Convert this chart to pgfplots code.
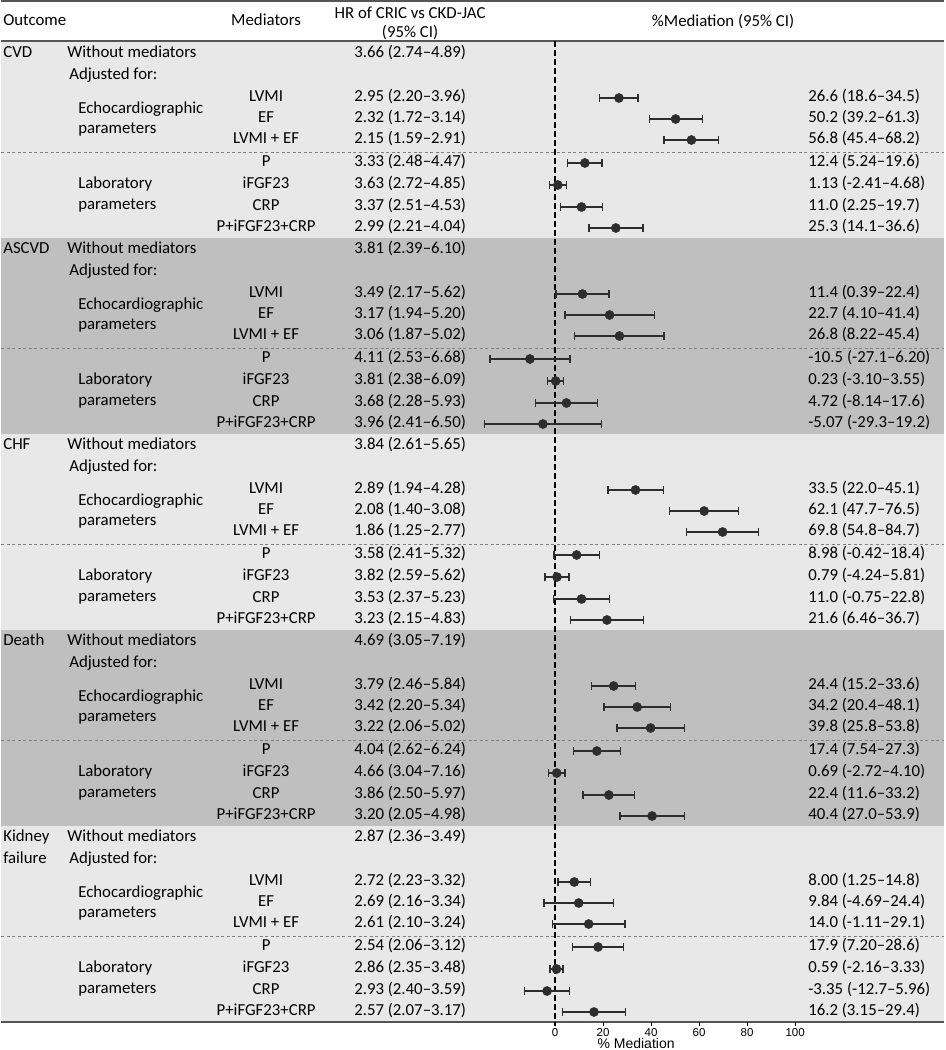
\documentclass[border=0pt]{standalone}
\usepackage{pgfplots}
\pgfplotsset{compat=1.18}
\usepackage{pgfplotstable}
\usepackage{fontspec}
\setmainfont{Carlito}
\newfontfamily\arialfont{Liberation Sans}

\definecolor{lightbg}{RGB}{232,232,232}
\definecolor{darkbg}{RGB}{191,191,191}
\definecolor{rulegray}{RGB}{85,85,85}
\definecolor{ptgray}{RGB}{45,45,45}

% %Mediation (95% CI): y = row position (px from top), est, lower, upper
\pgfplotstableread{
y est lo hi
98 26.6 18.6 34.5
119 50.2 39.2 61.3
140 56.8 45.4 68.2
163 12.4 5.24 19.6
185 1.13 -2.41 4.68
207 11.0 2.25 19.7
228 25.3 14.1 36.6
}\cvd
\pgfplotstableread{
y est lo hi
294 11.4 0.39 22.4
315 22.7 4.10 41.4
336 26.8 8.22 45.4
359 -10.5 -27.1 6.20
381 0.23 -3.10 3.55
403 4.72 -8.14 17.6
424 -5.07 -29.3 19.2
}\ascvd
\pgfplotstableread{
y est lo hi
490 33.5 22.0 45.1
511 62.1 47.7 76.5
532 69.8 54.8 84.7
555 8.98 -0.42 18.4
577 0.79 -4.24 5.81
599 11.0 -0.75 22.8
620 21.6 6.46 36.7
}\chf
\pgfplotstableread{
y est lo hi
686 24.4 15.2 33.6
707 34.2 20.4 48.1
728 39.8 25.8 53.8
751 17.4 7.54 27.3
773 0.69 -2.72 4.10
795 22.4 11.6 33.2
816 40.4 27.0 53.9
}\death
\pgfplotstableread{
y est lo hi
882 8.00 1.25 14.8
903 9.84 -4.69 24.4
924 14.0 -1.11 29.1
947 17.9 7.20 28.6
969 0.59 -2.16 3.33
991 -3.35 -12.7 5.96
1012 16.2 3.15 29.4
}\kidney

\newcommand\blocklabels[1]{%
  \node[txt,anchor=west] at (axis cs:66,#1+12) {Without mediators};
  \node[txt,anchor=west] at (axis cs:68,#1+34) {Adjusted for:};
  \node[txt,anchor=west] at (axis cs:77,#1+68) {Echocardiographic};
  \node[txt,anchor=west] at (axis cs:77,#1+88) {parameters};
  \node[txt,anchor=west] at (axis cs:77,#1+143) {Laboratory};
  \node[txt,anchor=west] at (axis cs:77,#1+164) {parameters};
  \node[txt] at (axis cs:265,#1+56) {LVMI};
  \node[txt] at (axis cs:265,#1+77) {EF};
  \node[txt] at (axis cs:265,#1+98) {LVMI + EF};
  \node[txt] at (axis cs:265,#1+121) {P};
  \node[txt] at (axis cs:265,#1+143) {iFGF23};
  \node[txt] at (axis cs:265,#1+165) {CRP};
  \node[txt] at (axis cs:265,#1+186) {P+iFGF23+CRP};
}
\newcommand\hr[2]{\node[txt,anchor=west] at (axis cs:353,#1) {#2};}
\newcommand\pct[2]{\node[txt,anchor=west] at (axis cs:807,#1) {#2};}

\begin{document}
\begin{tikzpicture}[font=\fontsize{16.8}{19}\selectfont,
  txt/.style={inner sep=0pt, text height=0.64em, text depth=0pt}]

% table frame, shading and text (pixel coordinates)
\begin{axis}[scale only axis, width=943pt, height=1050pt,
  xmin=0, xmax=943, ymin=0, ymax=1050, y dir=reverse,
  hide axis, clip=false]
\path (axis cs:0,0) rectangle (axis cs:943,1050);

\addplot[fill=lightbg, draw=none] coordinates {(0,42) (943,42) (943,238) (0,238)};
\addplot[fill=darkbg, draw=none] coordinates {(0,238) (943,238) (943,434) (0,434)};
\addplot[fill=lightbg, draw=none] coordinates {(0,434) (943,434) (943,630) (0,630)};
\addplot[fill=darkbg, draw=none] coordinates {(0,630) (943,630) (943,826) (0,826)};
\addplot[fill=lightbg, draw=none] coordinates {(0,826) (943,826) (943,1022) (0,1022)};

\addplot[rulegray, line width=2.2pt] coordinates {(0,1.2) (943,1.2)};
\addplot[rulegray, line width=2pt] coordinates {(0,41) (943,41)};
\addplot[rulegray, line width=2pt] coordinates {(0,1022) (943,1022)};
\addplot[gray, line width=0.8pt, dash pattern=on 3pt off 2.5pt] coordinates {(0,152) (943,152)};
\addplot[gray, line width=0.8pt, dash pattern=on 3pt off 2.5pt] coordinates {(0,348) (943,348)};
\addplot[gray, line width=0.8pt, dash pattern=on 3pt off 2.5pt] coordinates {(0,544) (943,544)};
\addplot[gray, line width=0.8pt, dash pattern=on 3pt off 2.5pt] coordinates {(0,740) (943,740)};
\addplot[gray, line width=0.8pt, dash pattern=on 3pt off 2.5pt] coordinates {(0,936) (943,936)};

% header
\node[txt,anchor=west] at (axis cs:2,22) {Outcome};
\node[txt] at (axis cs:265,22) {Mediators};
\node[inner sep=0pt, align=center] at (axis cs:409,23) {HR of CRIC vs CKD-JAC\\(95\% CI)};
\node[txt] at (axis cs:722,23) {\%Mediation (95\% CI)};

% outcomes
\node[txt,anchor=west] at (axis cs:2,54) {CVD};
\node[txt,anchor=west] at (axis cs:2,250) {ASCVD};
\node[txt,anchor=west] at (axis cs:2,446) {CHF};
\node[txt,anchor=west] at (axis cs:2,642) {Death};
\node[txt,anchor=west] at (axis cs:2,838) {Kidney};
\node[txt,anchor=west] at (axis cs:2,860) {failure};
\blocklabels{42}
\blocklabels{238}
\blocklabels{434}
\blocklabels{630}
\blocklabels{826}

% HR of CRIC vs CKD-JAC
\hr{54}{3.66 (2.74--4.89)}
\hr{98}{2.95 (2.20--3.96)}
\hr{119}{2.32 (1.72--3.14)}
\hr{140}{2.15 (1.59--2.91)}
\hr{163}{3.33 (2.48--4.47)}
\hr{185}{3.63 (2.72--4.85)}
\hr{207}{3.37 (2.51--4.53)}
\hr{228}{2.99 (2.21--4.04)}
\hr{250}{3.81 (2.39--6.10)}
\hr{294}{3.49 (2.17--5.62)}
\hr{315}{3.17 (1.94--5.20)}
\hr{336}{3.06 (1.87--5.02)}
\hr{359}{4.11 (2.53--6.68)}
\hr{381}{3.81 (2.38--6.09)}
\hr{403}{3.68 (2.28--5.93)}
\hr{424}{3.96 (2.41--6.50)}
\hr{446}{3.84 (2.61--5.65)}
\hr{490}{2.89 (1.94--4.28)}
\hr{511}{2.08 (1.40--3.08)}
\hr{532}{1.86 (1.25--2.77)}
\hr{555}{3.58 (2.41--5.32)}
\hr{577}{3.82 (2.59--5.62)}
\hr{599}{3.53 (2.37--5.23)}
\hr{620}{3.23 (2.15--4.83)}
\hr{642}{4.69 (3.05--7.19)}
\hr{686}{3.79 (2.46--5.84)}
\hr{707}{3.42 (2.20--5.34)}
\hr{728}{3.22 (2.06--5.02)}
\hr{751}{4.04 (2.62--6.24)}
\hr{773}{4.66 (3.04--7.16)}
\hr{795}{3.86 (2.50--5.97)}
\hr{816}{3.20 (2.05--4.98)}
\hr{838}{2.87 (2.36--3.49)}
\hr{882}{2.72 (2.23--3.32)}
\hr{903}{2.69 (2.16--3.34)}
\hr{924}{2.61 (2.10--3.24)}
\hr{947}{2.54 (2.06--3.12)}
\hr{969}{2.86 (2.35--3.48)}
\hr{991}{2.93 (2.40--3.59)}
\hr{1012}{2.57 (2.07--3.17)}

% %Mediation (95% CI)
\pct{98}{26.6 (18.6--34.5)}
\pct{119}{50.2 (39.2--61.3)}
\pct{140}{56.8 (45.4--68.2)}
\pct{163}{12.4 (5.24--19.6)}
\pct{185}{1.13 (-2.41--4.68)}
\pct{207}{11.0 (2.25--19.7)}
\pct{228}{25.3 (14.1--36.6)}
\pct{294}{11.4 (0.39--22.4)}
\pct{315}{22.7 (4.10--41.4)}
\pct{336}{26.8 (8.22--45.4)}
\pct{359}{-10.5 (-27.1--6.20)}
\pct{381}{0.23 (-3.10--3.55)}
\pct{403}{4.72 (-8.14--17.6)}
\pct{424}{-5.07 (-29.3--19.2)}
\pct{490}{33.5 (22.0--45.1)}
\pct{511}{62.1 (47.7--76.5)}
\pct{532}{69.8 (54.8--84.7)}
\pct{555}{8.98 (-0.42--18.4)}
\pct{577}{0.79 (-4.24--5.81)}
\pct{599}{11.0 (-0.75--22.8)}
\pct{620}{21.6 (6.46--36.7)}
\pct{686}{24.4 (15.2--33.6)}
\pct{707}{34.2 (20.4--48.1)}
\pct{728}{39.8 (25.8--53.8)}
\pct{751}{17.4 (7.54--27.3)}
\pct{773}{0.69 (-2.72--4.10)}
\pct{795}{22.4 (11.6--33.2)}
\pct{816}{40.4 (27.0--53.9)}
\pct{882}{8.00 (1.25--14.8)}
\pct{903}{9.84 (-4.69--24.4)}
\pct{924}{14.0 (-1.11--29.1)}
\pct{947}{17.9 (7.20--28.6)}
\pct{969}{0.59 (-2.16--3.33)}
\pct{991}{-3.35 (-12.7--5.96)}
\pct{1012}{16.2 (3.15--29.4)}

\node[inner sep=0pt, font=\arialfont\fontsize{14}{15}\selectfont] at (axis cs:635,1043) {\% Mediation};
\end{axis}

% forest plot
\begin{axis}[at={(0pt,28pt)}, anchor=south west,
  scale only axis, width=943pt, height=1022pt,
  xmin=-230.833, xmax=162.083, ymin=0, ymax=1022, y dir=reverse,
  clip=false, hide y axis, axis line style={draw=none},
  xtick={0,20,40,60,80,100}, xtick pos=left, tick align=outside, major tick length=4pt,
  tick style={black, line width=0.7pt},
  xticklabel style={font=\arialfont\fontsize{11.5}{12}\selectfont, inner sep=1pt, yshift=-1pt},
  /pgf/number format/assume math mode=true]
\addplot[black, line width=1.6pt, dash pattern=on 6pt off 3pt] coordinates {(0,41) (0,1026)};
\pgfplotsset{forest/.style={only marks, mark=*, mark size=4.6pt, color=ptgray,
  error bars/.cd, x dir=both, x explicit, error mark=|,
  error bar style={line width=1.3pt, color=ptgray},
  error mark options={mark size=4pt, line width=1.3pt, color=ptgray}}}
\addplot[forest] table[x=est, y=y, x error plus expr=\thisrow{hi}-\thisrow{est}, x error minus expr=\thisrow{est}-\thisrow{lo}] {\cvd};
\addplot[forest] table[x=est, y=y, x error plus expr=\thisrow{hi}-\thisrow{est}, x error minus expr=\thisrow{est}-\thisrow{lo}] {\ascvd};
\addplot[forest] table[x=est, y=y, x error plus expr=\thisrow{hi}-\thisrow{est}, x error minus expr=\thisrow{est}-\thisrow{lo}] {\chf};
\addplot[forest] table[x=est, y=y, x error plus expr=\thisrow{hi}-\thisrow{est}, x error minus expr=\thisrow{est}-\thisrow{lo}] {\death};
\addplot[forest] table[x=est, y=y, x error plus expr=\thisrow{hi}-\thisrow{est}, x error minus expr=\thisrow{est}-\thisrow{lo}] {\kidney};
\end{axis}
\end{tikzpicture}
\end{document}
